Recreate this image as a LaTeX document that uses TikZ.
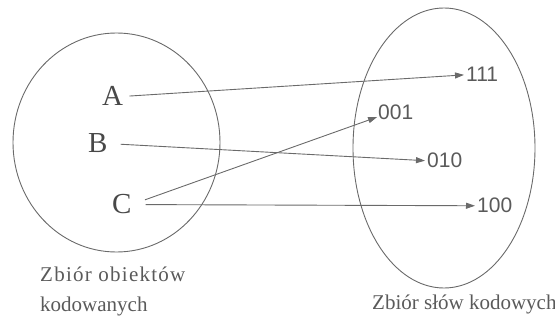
\documentclass[tikz,border=0pt]{standalone}
\usepackage{fontspec}
\setmainfont{Liberation Serif}
\newfontfamily\digitfont{Liberation Sans}
\usetikzlibrary{arrows.meta}
\definecolor{linegray}{HTML}{6A6A6A}
\definecolor{textgray}{HTML}{5A5A5A}
\tikzset{
  setline/.style={draw=linegray, line width=0.9pt},
  letter/.style={inner sep=0pt, anchor=base west, text=textgray!80!black, font=\fontsize{29}{31}\selectfont},
  codeword/.style={inner sep=0pt, anchor=base west, text=textgray, font=\digitfont\fontsize{21}{23}\selectfont},
  caption/.style={inner sep=0pt, anchor=base west, text=textgray, font=\fontsize{21}{23}\selectfont},
  maparrow/.style={draw=linegray, line width=0.9pt, -{Triangle[length=9pt,width=6pt]}}
}
\begin{document}
\begin{tikzpicture}[x=1pt,y=-1pt]
\useasboundingbox (0,0) rectangle (555,326);
% sets
\draw[setline] (116.5,142.5) ellipse [x radius=103.5, y radius=109.5];
\draw[setline] (444,148) ellipse [x radius=91, y radius=140];
% objects
\node[letter] (A) at (102,106) {A};
\node[letter] (B) at (88,153) {B};
\node[letter] (C) at (112,214) {C};
% code words
\node[codeword] (w111) at (466,82) {111};
\node[codeword] (w001) at (378,120) {001};
\node[codeword] (w010) at (427,168) {010};
\node[codeword] (w100) at (477,213) {100};
% captions
\node[caption, font=\addfontfeatures{LetterSpace=6}\fontsize{21}{23}\selectfont] (cap1) at (40,281) {Zbiór obiektów};
\node[caption] (cap2) at (40,312) {kodowanych};
\node[caption] (cap3) at (372,309) {Zbiór słów kodowych};
% mapping
\draw[maparrow, shorten <=6pt, shorten >=2pt] (A.east) -- (w111.west);
\draw[maparrow, shorten <=13pt, shorten >=2pt] (B.east) -- (w010.west);
\draw[maparrow, shorten <=14pt, shorten >=1pt] (C.east) -- ([yshift=-4pt]w001.west);
\draw[maparrow, shorten <=14pt, shorten >=2pt] (C.east) -- (w100.west);
\end{tikzpicture}
\end{document}
